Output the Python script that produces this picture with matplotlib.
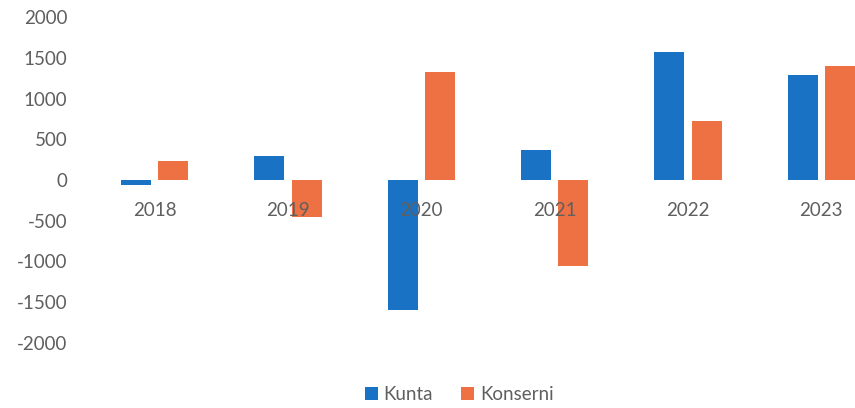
import matplotlib.pyplot as plt
import numpy as np

years = ["2018", "2019", "2020", "2021", "2022", "2023"]
kunta = [-60, 290, -1600, 370, 1570, 1290]
konserni = [230, -450, 1330, -1050, 720, 1400]

BLUE = "#1a72c5"
ORANGE = "#ee7143"
TEXT = "#5f5f5f"

plt.rcParams["font.family"] = ["Lato", "DejaVu Sans"]
plt.rcParams["axes.unicode_minus"] = False

fig = plt.figure(figsize=(8.55, 4.08), dpi=100)
# plot area runs past the right edge, as in the cropped original
ax = fig.add_axes([88 / 855, 1 - 343 / 408, 800 / 855, 326 / 408])

x = np.arange(len(years))
w = 0.225
off = 0.14
ax.bar(x - off, kunta, w, color=BLUE, label="Kunta")
ax.bar(x + off, konserni, w, color=ORANGE, label="Konserni")

ax.set_xlim(-0.5, len(years) - 0.5)
ax.set_ylim(-2000, 2000)
ax.set_yticks(np.arange(-2000, 2001, 500))
ax.set_xticks(x)
ax.set_xticklabels(years)

for s in ["top", "right", "left"]:
    ax.spines[s].set_visible(False)
ax.spines["bottom"].set_position(("data", 0))
ax.spines["bottom"].set_visible(False)
ax.tick_params(axis="both", length=0, labelsize=13.5, labelcolor=TEXT)
ax.tick_params(axis="y", pad=15)
ax.tick_params(axis="x", pad=16)

fig.legend(loc="center", bbox_to_anchor=(0.537, 0.034), ncol=2, frameon=False,
           fontsize=13.5, labelcolor=TEXT, handlelength=0.7, handleheight=0.7,
           handletextpad=0.3, columnspacing=1.5)

fig.savefig("out.png", dpi=100)
